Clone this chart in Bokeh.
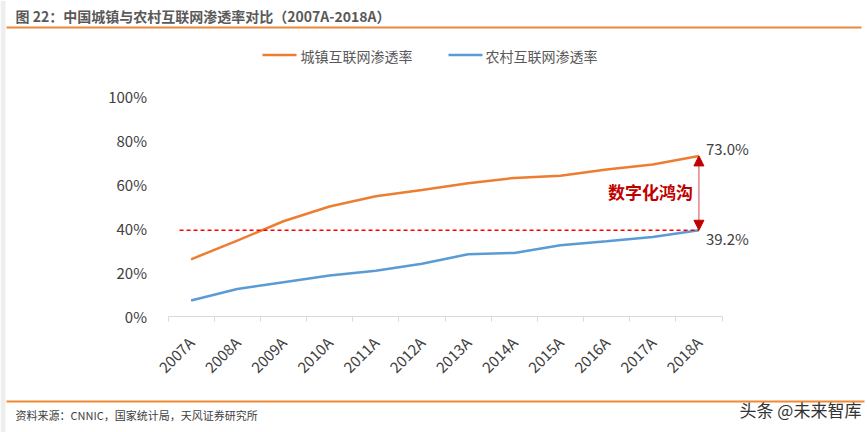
import math
from bokeh.plotting import figure
from bokeh.models import (Range1d, FixedTicker, Label, BoxAnnotation, Arrow, NormalHead,
                          ColumnDataSource, CustomJSTickFormatter)
from bokeh.embed import file_html
from bokeh.resources import INLINE

# ---- data ----
years = ["2007A", "2008A", "2009A", "2010A", "2011A", "2012A",
         "2013A", "2014A", "2015A", "2016A", "2017A", "2018A"]
urban = [26.0, 34.5, 43.3, 50.0, 54.7, 57.5, 60.6, 63.0, 64.0, 66.8, 69.1, 73.0]
rural = [7.3, 12.5, 15.6, 18.6, 20.8, 24.0, 28.3, 28.9, 32.4, 34.2, 36.1, 39.2]
y_ticks = [0, 20, 40, 60, 80, 100]
title_text = "图 22：中国城镇与农村互联网渗透率对比（2007A-2018A）"
legend_names = ["城镇互联网渗透率", "农村互联网渗透率"]
source_text = "资料来源：CNNIC，国家统计局，天风证券研究所"
gap_text = "数字化鸿沟"
watermark = "头条 @未来智库"

ORANGE = "#ED7D31"
BLUE = "#5B9BD5"
DARKRED = "#C00000"
TXT = "#404040"
FONT = "Noto Sans CJK SC"

W, H = 867, 432
FL, FR, FT, FB = 167.5, 721.5, 96, 316   # plot area edges in page pixels
n = len(years)
xpx = (FR - FL) / n          # pixels per category
ypx = (FB - FT) / 100.0      # pixels per percent

# ranges chosen so the whole canvas is the frame and the plot area sits at FL..FR, FT..FB
x0 = -0.5 - FL / xpx
x1 = -0.5 + (W - FL) / xpx
y0 = -(H - FB) / ypx
y1 = FB / ypx

p = figure(width=W, height=H, min_border=0,
           x_range=Range1d(x0, x1), y_range=Range1d(y0, y1),
           output_backend="svg", toolbar_location=None,
           background_fill_color="white", border_fill_color="white")
p.outline_line_color = None
p.grid.visible = False

idx = list(range(n))
src = ColumnDataSource(dict(x=idx, urban=urban, rural=rural))
p.line("x", "urban", source=src, line_color=ORANGE, line_width=2.5)
p.line("x", "rural", source=src, line_color=BLUE, line_width=2.5)

# dashed reference at rural 2018 level
p.segment(x0=[-0.25], y0=[rural[-1]], x1=[idx[-1]], y1=[rural[-1]],
          line_color="#FF0000", line_dash="4 3", line_width=1.5)

# double arrow gap
p.add_layout(Arrow(x_start=idx[-1], y_start=rural[-1], x_end=idx[-1], y_end=urban[-1],
                   line_color=DARKRED, line_alpha=0.6, line_width=1.2,
                   start=NormalHead(size=10, fill_color=DARKRED, line_color=DARKRED),
                   end=NormalHead(size=10, fill_color=DARKRED, line_color=DARKRED)))

# axes (fixed inside the full-canvas frame)
xa = p.xaxis[0]
xa.fixed_location = 0
xa.bounds = (-0.5, n - 0.5)
xa.ticker = FixedTicker(ticks=idx, minor_ticks=[i - 0.5 for i in range(n + 1)])
xa.major_label_overrides = {i: y for i, y in enumerate(years)}
xa.major_label_orientation = math.pi / 4
xa.major_tick_out = 0
xa.major_tick_in = 0
xa.minor_tick_out = 5
xa.minor_tick_in = 0
xa.minor_tick_line_color = "#D9D9D9"
xa.axis_line_color = "#D9D9D9"
xa.major_label_text_font = FONT
xa.major_label_text_font_size = "15px"
xa.major_label_text_color = TXT
xa.major_label_standoff = 18

ya = p.yaxis[0]
ya.fixed_location = -0.5
ya.bounds = (0, 100)
ya.ticker = FixedTicker(ticks=y_ticks)
ya.formatter = CustomJSTickFormatter(code="return tick + '%';")
ya.axis_line_color = None
ya.major_tick_line_color = None
ya.minor_tick_line_color = None
ya.major_label_text_font = FONT
ya.major_label_text_font_size = "15px"
ya.major_label_text_color = TXT
ya.major_label_standoff = 15


def sx(px):
    return px


def sy(py):
    return H - py


def add_label(text, px, py, size, color=TXT, align="left", baseline="middle", style="normal"):
    p.add_layout(Label(x=sx(px), y=sy(py), x_units="screen", y_units="screen", text=text,
                       text_font=FONT, text_font_size=size, text_color=color,
                       text_align=align, text_baseline=baseline, text_font_style=style))


def add_rule(px0, px1, py, color, thick):
    p.add_layout(BoxAnnotation(left=sx(px0), right=sx(px1), top=sy(py - thick / 2),
                               bottom=sy(py + thick / 2), left_units="screen",
                               right_units="screen", top_units="screen", bottom_units="screen",
                               fill_color=color, fill_alpha=1, line_color=None))


# left page shading
p.add_layout(BoxAnnotation(left=0, right=5, top=H, bottom=0, left_units="screen",
                           right_units="screen", top_units="screen", bottom_units="screen",
                           fill_color="#EEEEEE", fill_alpha=1, line_color=None))

add_label(title_text, 15, 15, "14px", color="#595959", style="bold")
add_rule(6, 861, 27, "#E8883C", 2)
add_rule(6, 864, 401, "#F08A30", 2)
add_label(source_text, 15, 414, "11px", color="#404040")
add_label(watermark, 739, 409, "17px", color="#333333")

# legend
add_rule(262, 296, 54.5, ORANGE, 2.5)
add_rule(448, 482, 54.5, BLUE, 2.5)
add_label(legend_names[0], 300, 55, "14px", color="#595959")
add_label(legend_names[1], 485, 55, "14px", color="#595959")

# end value labels
p.add_layout(Label(x=idx[-1], y=urban[-1], x_offset=7, y_offset=7, text=f"{urban[-1]:.1f}%",
                   text_font=FONT, text_font_size="15px", text_color=TXT,
                   text_align="left", text_baseline="middle"))
p.add_layout(Label(x=idx[-1], y=rural[-1], x_offset=7, y_offset=-8, text=f"{rural[-1]:.1f}%",
                   text_font=FONT, text_font_size="15px", text_color=TXT,
                   text_align="left", text_baseline="middle"))
p.add_layout(Label(x=idx[-1], y=(urban[-1] + rural[-1]) / 2 + 0.5, x_offset=-6, text=gap_text,
                   text_font=FONT, text_font_size="17px", text_color=DARKRED,
                   text_font_style="bold", text_align="right", text_baseline="middle"))

open("out.html", "w").write(file_html(p, INLINE))
